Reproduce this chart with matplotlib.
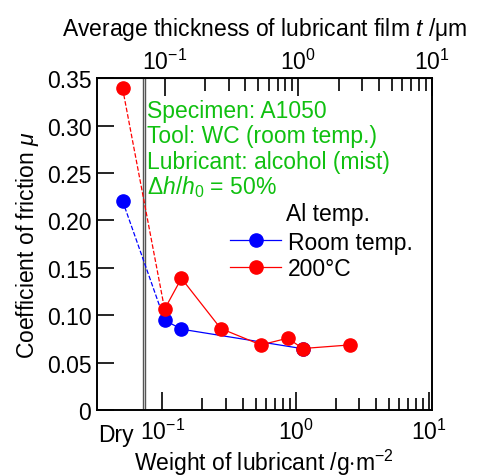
import matplotlib
matplotlib.use("Agg")
import matplotlib.pyplot as plt
from matplotlib.ticker import FixedLocator, NullFormatter, LogFormatterSciNotation

plt.rcParams['font.family'] = ['Liberation Sans', 'DejaVu Sans']
plt.rcParams['mathtext.fontset'] = 'custom'
plt.rcParams['mathtext.rm'] = 'Liberation Sans'
plt.rcParams['mathtext.it'] = 'Liberation Sans:italic'
plt.rcParams['mathtext.bf'] = 'Liberation Sans:bold'

# weight of lubricant [g/m^2]; the first point of each series is the "Dry" test
dry_w = 0.0503
room_w = [0.104, 0.139, 1.13]
room_mu = [0.0949, 0.0854, 0.0648]
room_dry_mu = 0.2207
hot_w = [0.104, 0.139, 0.274, 0.548, 0.871, 1.13, 2.56]
hot_mu = [0.1065, 0.139, 0.0861, 0.0688, 0.0759, 0.065, 0.0688]
hot_dry_mu = 0.3395

yticks = [0, 0.05, 0.10, 0.15, 0.20, 0.25, 0.30, 0.35]
ytick_labels = ['0', '0.05', '0.10', '0.15', '0.20', '0.25', '0.30', '0.35']
major_x = [0.1, 1, 10]
minor_x = [m * d for d in (0.1, 1) for m in range(2, 10)]
film_factor = 0.955

green = '#10c010'
fs = 16.5

fig = plt.figure(figsize=(4.82, 4.77), dpi=100)
ax = fig.add_axes([0.201, 0.138, 0.695, 0.696])

# break between Dry and the log scale
for xb in (0.0712, 0.0745):
    ax.axvline(xb, color='#555555', lw=1.0, zorder=1)

ax.plot([dry_w, room_w[0]], [room_dry_mu, room_mu[0]], ls='--', color='blue', lw=0.9, zorder=2)
ax.plot([dry_w, hot_w[0]], [hot_dry_mu, hot_mu[0]], ls='--', color='red', lw=0.9, zorder=2)
ax.plot(room_w, room_mu, '-o', color='blue', lw=0.9, ms=9.5, label='Room temp.', zorder=3)
ax.plot(hot_w, hot_mu, '-o', color='red', lw=0.9, ms=9.5, label='200°C', zorder=4)
ax.plot([dry_w], [room_dry_mu], 'o', color='blue', ms=9.5, zorder=3)
ax.plot([dry_w], [hot_dry_mu], 'o', color='red', ms=9.5, zorder=4)

ax.set_xscale('log')
ax.set_xlim(0.0323, 10.5)
ax.set_ylim(0, 0.35)
ax.set_yticks(yticks)
ax.set_yticklabels(ytick_labels)
ax.xaxis.set_major_locator(FixedLocator(major_x))
ax.xaxis.set_minor_locator(FixedLocator(minor_x))
ax.xaxis.set_major_formatter(LogFormatterSciNotation())
ax.xaxis.set_minor_formatter(NullFormatter())
ax.tick_params(axis='both', which='major', direction='in', labelsize=fs, width=1.2)
ax.tick_params(axis='x', which='major', length=13, pad=6)
ax.tick_params(axis='x', which='minor', direction='in', length=9, width=1.2)
ax.tick_params(axis='y', which='major', length=12, pad=4)
ax.tick_params(axis='y', which='minor', left=False)
for s in ax.spines.values():
    s.set_linewidth(1.4)

ax.text(0.0446, -0.0135, 'Dry', ha='center', va='top', fontsize=fs)

ax.set_xlabel('Weight of lubricant /g$\\cdot$m$^{-2}$', fontsize=fs, labelpad=2)
ax.set_ylabel('Coefficient of friction $\\mathit{\\mu}$', fontsize=fs, labelpad=4)

top = ax.secondary_xaxis('top', functions=(lambda w: w * film_factor, lambda t: t / film_factor))
top.xaxis.set_major_locator(FixedLocator(major_x))
top.xaxis.set_minor_locator(FixedLocator(minor_x))
top.xaxis.set_major_formatter(LogFormatterSciNotation())
top.xaxis.set_minor_formatter(NullFormatter())
top.tick_params(axis='x', which='major', direction='in', length=13, width=1.2, labelsize=fs, pad=3)
top.tick_params(axis='x', which='minor', direction='in', length=9, width=1.2)
top.set_xlabel('Average thickness of lubricant film $\\mathit{t}$ /$\\mathrm{\\mu}$m', fontsize=fs, labelpad=10)

notes = ['Specimen: A1050', 'Tool: WC (room temp.)', 'Lubricant: alcohol (mist)',
         '$\\mathit{\\Delta h/h_0}$ = 50%']
for i, t in enumerate(notes):
    ax.text(0.149, 0.902 - i * 0.076, t, transform=ax.transAxes, color=green,
            fontsize=fs, va='center', ha='left')

ax.text(0.565, 0.592, 'Al temp.', transform=ax.transAxes, fontsize=fs, va='center', ha='left')
ax.legend(loc='upper left', bbox_to_anchor=(0.385, 0.555), frameon=False, fontsize=fs,
          handlelength=2.2, handletextpad=0.3, labelspacing=0.15, borderaxespad=0,
          borderpad=0.2)

fig.savefig('out.png', dpi=100)
